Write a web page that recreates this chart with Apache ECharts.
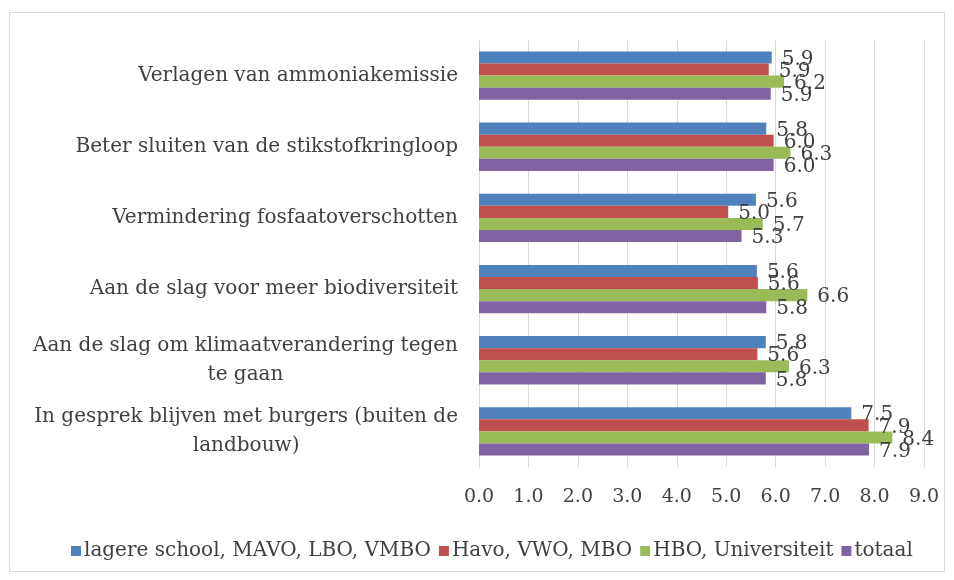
<!DOCTYPE html>
<html>
<head>
<meta charset="utf-8">
<script src="https://cdn.jsdelivr.net/npm/echarts@6/dist/echarts.min.js"></script>
<style>
  html, body { margin: 0; padding: 0; background: #fff; }
  #chart { width: 954px; height: 580px; }
</style>
</head>
<body>
<div id="chart"></div>
<script>
// categories, top to bottom
const categories = [
  'Verlagen van ammoniakemissie',
  'Beter sluiten van de stikstofkringloop',
  'Vermindering fosfaatoverschotten',
  'Aan de slag voor meer biodiversiteit',
  'Aan de slag om klimaatverandering tegen\nte gaan',
  'In gesprek blijven met burgers (buiten de\nlandbouw)'
];

const seriesNames = ['lagere school, MAVO, LBO, VMBO', 'Havo, VWO, MBO', 'HBO, Universiteit', 'totaal'];
const lagereSchool = [5.92, 5.81, 5.60, 5.62, 5.80, 7.53];
const havoVwoMbo = [5.86, 5.96, 5.04, 5.64, 5.63, 7.88];
const hboUniv = [6.17, 6.30, 5.74, 6.64, 6.27, 8.36];
const totaal = [5.90, 5.96, 5.31, 5.81, 5.80, 7.89];
const xTicks = [0, 1, 2, 3, 4, 5, 6, 7, 8, 9];

const colors = ['#4f81bd', '#c0504d', '#9bbb59', '#8064a2'];
const font = 'DejaVu Serif';
const textColor = '#404040';

const chart = echarts.init(document.getElementById('chart'));

const makeSeries = (name, data, i) => ({
  name: name,
  type: 'bar',
  data: data,
  barGap: '0%',
  barCategoryGap: '32%',
  itemStyle: { color: colors[i] },
  label: {
    show: true,
    position: 'right',
    distance: 10,
    offset: [0, 2],
    fontFamily: font,
    fontSize: 20,
    color: textColor,
    formatter: p => p.value.toFixed(1)
  }
});

chart.setOption({
  animation: false,
  color: colors,
  grid: { left: 479, right: 30, top: 40, bottom: 113 },
  graphic: [{
    type: 'rect',
    shape: { x: 9.5, y: 12.5, width: 935, height: 559 },
    style: { fill: 'none', stroke: '#d9d9d9', lineWidth: 1 },
    silent: true
  }],
  xAxis: {
    type: 'value',
    min: 0,
    max: 9,
    interval: 1,
    axisLine: { show: false },
    axisTick: { show: false },
    splitLine: { lineStyle: { color: '#d9d9d9', width: 1 } },
    axisLabel: {
      margin: 21,
      fontFamily: font,
      fontSize: 19,
      color: textColor,
      formatter: v => xTicks.includes(v) ? v.toFixed(1) : ''
    }
  },
  yAxis: {
    type: 'category',
    inverse: true,
    data: categories,
    axisLine: { show: true, lineStyle: { color: '#d9d9d9' } },
    axisTick: { show: false },
    axisLabel: {
      margin: 21,
      fontFamily: font,
      fontSize: 20,
      color: textColor,
      lineHeight: 29,
      formatter: v => v.split('\n').map(s => '{c|' + s + '}').join('\n'),
      rich: { c: { align: 'center', fontFamily: font, fontSize: 20, color: textColor, lineHeight: 29 } }
    }
  },
  legend: {
    bottom: 14,
    left: 66,
    itemWidth: 10,
    itemHeight: 10,
    itemGap: 8,
    icon: 'rect',
    textStyle: { fontFamily: font, fontSize: 20, color: textColor, padding: [0, 0, 0, -2] },
    data: seriesNames
  },
  series: [
    makeSeries(seriesNames[0], lagereSchool, 0),
    makeSeries(seriesNames[1], havoVwoMbo, 1),
    makeSeries(seriesNames[2], hboUniv, 2),
    makeSeries(seriesNames[3], totaal, 3)
  ]
});
</script>
</body>
</html>
